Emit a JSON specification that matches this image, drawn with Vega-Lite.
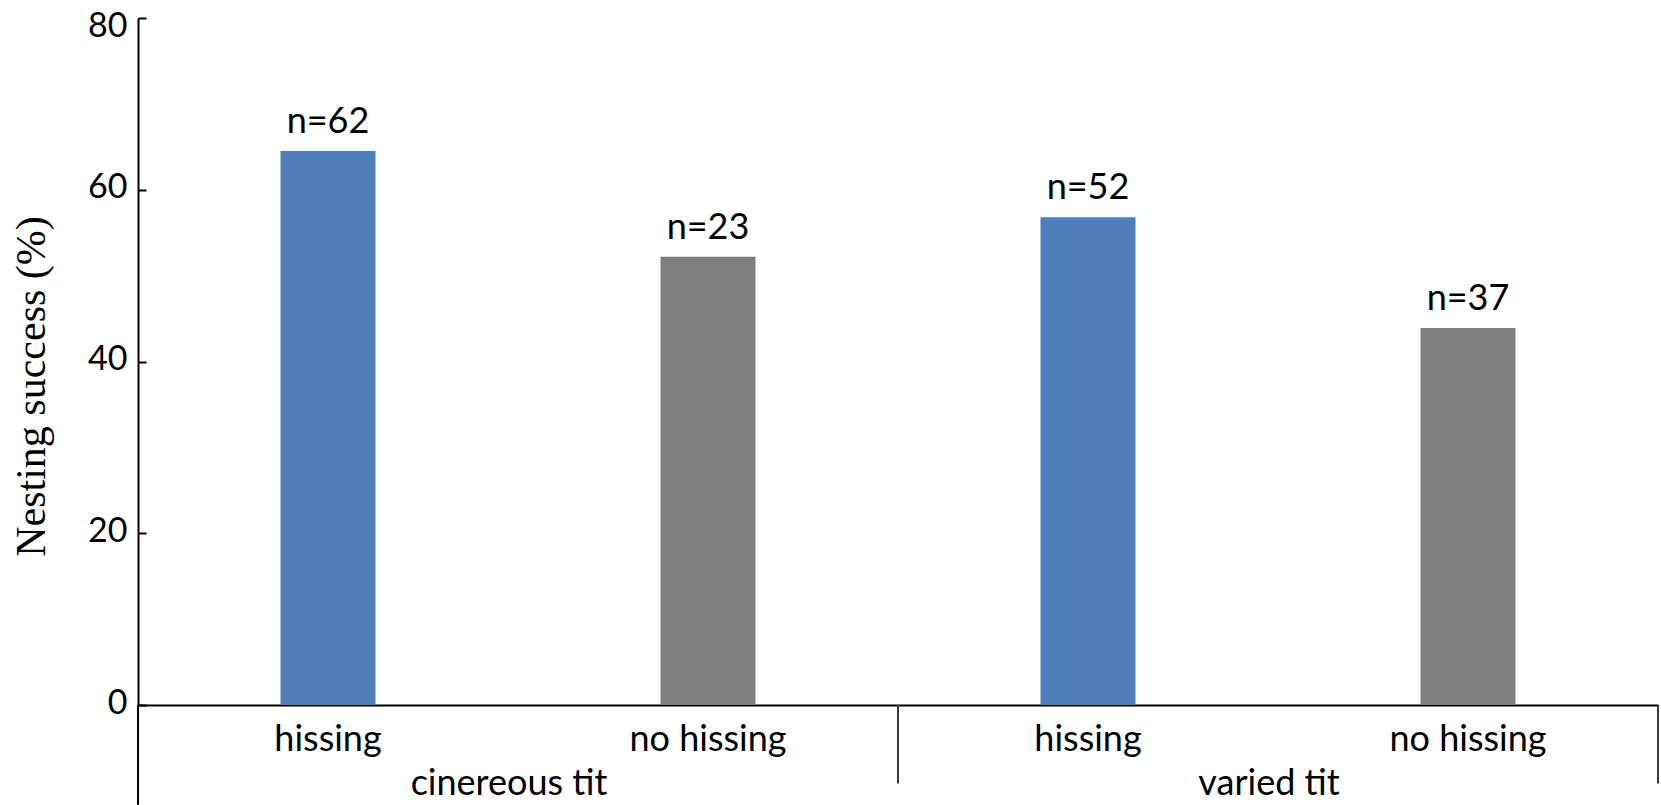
{
  "$schema": "https://vega.github.io/schema/vega-lite/v6.json",
  "width": 1520,
  "height": 687,
  "autosize": {"type": "none"},
  "padding": {"left": 138, "top": 18, "right": 3, "bottom": 100},
  "background": "white",
  "config": {"view": {"stroke": null}, "font": "Lato"},
  "datasets": {
    "bars": [
      {"key": "c_h", "species": "cinereous tit", "treatment": "hissing", "success": 64.5, "label": "n=62"},
      {"key": "c_n", "species": "cinereous tit", "treatment": "no hissing", "success": 52.2, "label": "n=23"},
      {"key": "v_h", "species": "varied tit", "treatment": "hissing", "success": 56.8, "label": "n=52"},
      {"key": "v_n", "species": "varied tit", "treatment": "no hissing", "success": 43.9, "label": "n=37"}
    ],
    "groups": [
      {"key": "c_n", "species": "cinereous tit"},
      {"key": "v_n", "species": "varied tit"}
    ]
  },
  "layer": [
    {
      "data": {"name": "bars"},
      "mark": {"type": "bar", "width": {"band": 0.25}},
      "encoding": {
        "x": {
          "field": "key", "type": "nominal",
          "scale": {"domain": ["c_h", "c_n", "v_h", "v_n"], "paddingInner": 0, "paddingOuter": 0},
          "axis": {
            "title": null,
            "labelExpr": "datum.value == 'c_h' || datum.value == 'v_h' ? 'hissing' : 'no hissing'",
            "labelAngle": 0,
            "labelFont": "Lato",
            "labelFontSize": 36,
            "labelColor": "black",
            "labelPadding": 17,
            "labelOverlap": false,
            "labelLimit": 0,
            "ticks": false,
            "domainColor": "black",
            "domainWidth": 2
          }
        },
        "y": {
          "field": "success", "type": "quantitative",
          "scale": {"domain": [0, 80], "nice": false, "zero": true},
          "axis": {
            "values": [0, 20, 40, 60, 80],
            "grid": false,
            "domainColor": "black",
            "domainWidth": 2,
            "tickColor": "black",
            "tickWidth": 2,
            "tickSize": -8,
            "labelFont": "Lato",
            "labelFontSize": 34,
            "labelColor": "black",
            "labelPadding": 19,
            "labelOffset": {"condition": {"test": "datum.value == 80", "value": 8}, "value": -2},
            "title": "Nesting success (%)",
            "titleFont": "Liberation Serif",
            "titleFontSize": 42,
            "titleFontWeight": "normal",
            "titleColor": "black",
            "titleAngle": -90,
            "titleX": -107,
            "titleY": 368,
            "titleAlign": "center",
            "titleBaseline": "middle"
          }
        },
        "color": {
          "field": "treatment", "type": "nominal",
          "scale": {"domain": ["hissing", "no hissing"], "range": ["#4f7fba", "#7f7f7f"]},
          "legend": null
        }
      }
    },
    {
      "data": {"name": "bars"},
      "mark": {"type": "text", "font": "Lato", "fontSize": 36, "color": "black", "baseline": "alphabetic", "align": "center", "dy": -18},
      "encoding": {
        "x": {"field": "key", "type": "nominal"},
        "y": {"field": "success", "type": "quantitative"},
        "text": {"field": "label"}
      }
    },
    {
      "data": {"name": "groups"},
      "mark": {"type": "text", "font": "Lato", "fontSize": 36, "color": "black", "baseline": "alphabetic", "align": "center", "dx": -9},
      "encoding": {
        "x": {"field": "key", "type": "nominal", "bandPosition": 0},
        "y": {"datum": -10.5, "type": "quantitative"},
        "text": {"field": "species"}
      }
    },
    {
      "data": {"name": "groups"},
      "mark": {"type": "rule", "color": "#3a3a3a", "strokeWidth": 2},
      "encoding": {
        "x": {"datum": "v_h", "type": "nominal", "bandPosition": 0},
        "y": {"datum": 0, "type": "quantitative"},
        "y2": {"datum": -9.1}
      }
    },
    {
      "data": {"name": "groups"},
      "mark": {"type": "rule", "color": "#3a3a3a", "strokeWidth": 2},
      "encoding": {
        "x": {"datum": "v_n", "type": "nominal", "bandPosition": 1},
        "y": {"datum": 0, "type": "quantitative"},
        "y2": {"datum": -9.1}
      }
    },
    {
      "data": {"name": "groups"},
      "mark": {"type": "rule", "color": "black", "strokeWidth": 2},
      "encoding": {
        "x": {"datum": "c_h", "type": "nominal", "bandPosition": 0},
        "y": {"datum": 0, "type": "quantitative"},
        "y2": {"datum": -11.6}
      }
    }
  ]
}
